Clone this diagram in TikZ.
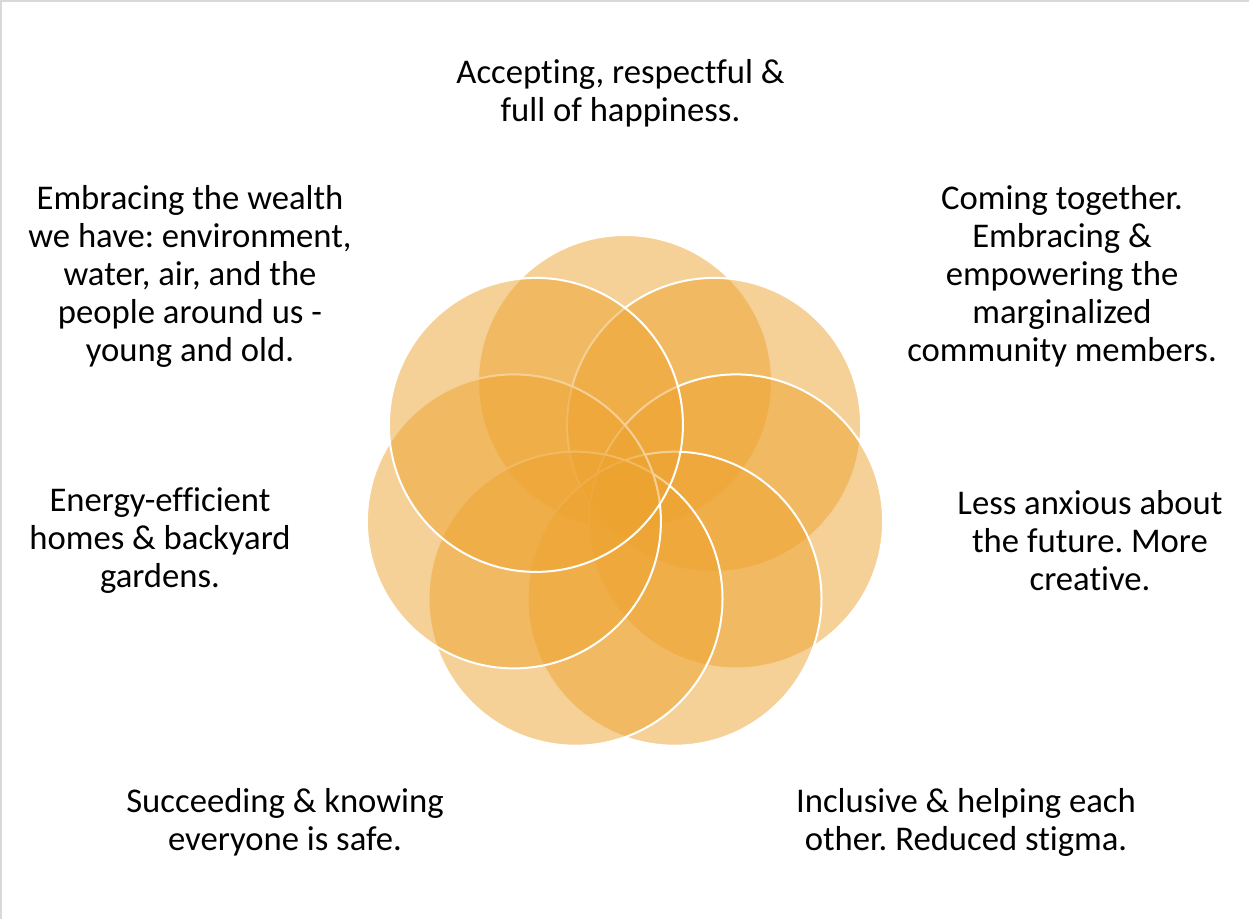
\documentclass[tikz,border=0pt]{standalone}
\usepackage{fontspec}
\setmainfont[Ligatures=NoCommon]{Carlito}
\usepackage{xcolor}
\usepackage{tikz}
\usetikzlibrary{positioning}
\definecolor{amber}{HTML}{EDA32F}
\definecolor{rim}{HTML}{D9D9D9}
\frenchspacing

\begin{document}
\begin{tikzpicture}[x=0.75pt, y=-0.75pt,
  petal/.style={circle, draw=white, line width=1.5pt, fill=amber,
                fill opacity=0.5, draw opacity=1, minimum size=220.5pt, inner sep=0pt},
  lbl/.style={align=center, font=\fontsize{26pt}{28.5pt}\selectfont, inner sep=0pt}
]
\useasboundingbox (0,0) rectangle (1249,919);
\draw[rim, line width=1.5pt] (1,919) -- (1,1) -- (1249,1);

% seven overlapping circles, drawn clockwise from the top
\node[petal] (ctop) at (625,382) {};
\node[petal] (cur)  at (714.1,424.9) {};
\node[petal] (cr)   at (736.1,521.4) {};
\node[petal] (clr)  at (674.5,598.7) {};
\node[petal] (cll)  at (575.5,598.7) {};
\node[petal] (cl)   at (513.9,521.4) {};
\node[petal] (cul)  at (535.9,424.9) {};

% labels
\node[lbl] (ttop) at (620.5,93) {Accepting, respectful \&\\full of happiness.};
\node[lbl] (tul) at (190,276.5) {Embracing the wealth\\we have: environment,\\water, air, and the\\people around us -\\young and old.};
\node[lbl] (tur) at (1062,276.5) {Coming together.\\Embracing \&\\empowering the\\marginalized\\community members.};
\node[lbl] (tl) at (160,541) {Energy-efficient\\homes \& backyard\\gardens.};
\node[lbl] (tr) at (1090,541) {Less anxious about\\the future. More\\creative.};
\node[lbl] (tll) at (285,822) {Succeeding \& knowing\\everyone is safe.};
\node[lbl] (tlr) at (966,822) {Inclusive \& helping each\\other. Reduced stigma.};
\end{tikzpicture}
\end{document}
